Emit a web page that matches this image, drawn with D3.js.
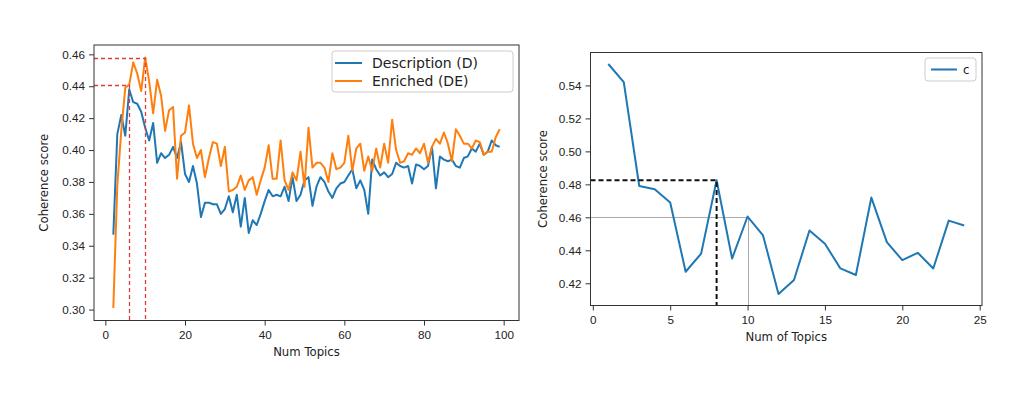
<!DOCTYPE html>
<html>
<head>
<meta charset="utf-8">
<script src="https://cdn.jsdelivr.net/npm/d3@7"></script>
<style>
  body { margin: 0; background: #fff; }
  svg { display: block; font-family: "DejaVu Sans", sans-serif; }
  .tick line { stroke: #333; }
  .tick text { fill: #222; font-size: 11.7px; }
  .axis-label { fill: #222; font-size: 11.7px; }
</style>
</head>
<body>
<svg id="chart" width="1024" height="394"></svg>
<script>

  //============================================================
  // Data
  //------------------------------------------------------------

  // left panel: topics 2..99
  var numTopics = d3.range(2, 100);

  var description = [
    0.347, 0.410, 0.422, 0.409, 0.438, 0.430, 0.429, 0.424, 0.414, 0.406,
    0.417, 0.392, 0.398, 0.395, 0.397, 0.402, 0.395, 0.405, 0.385, 0.380,
    0.390, 0.379, 0.358, 0.367, 0.367, 0.366, 0.366, 0.360, 0.363, 0.371,
    0.361, 0.372, 0.352, 0.370, 0.348, 0.356, 0.353, 0.360, 0.368, 0.375,
    0.371, 0.372, 0.371, 0.377, 0.368, 0.383, 0.368, 0.372, 0.381, 0.383,
    0.365, 0.377, 0.383, 0.380, 0.374, 0.370, 0.376, 0.379, 0.380, 0.384,
    0.388, 0.376, 0.381, 0.375, 0.360, 0.394, 0.388, 0.384, 0.386, 0.383,
    0.385, 0.392, 0.390, 0.389, 0.390, 0.379, 0.391, 0.390, 0.388, 0.390,
    0.402, 0.376, 0.396, 0.394, 0.393, 0.394, 0.390, 0.389, 0.395, 0.396,
    0.401, 0.399, 0.404, 0.397, 0.399, 0.406, 0.403, 0.402
  ];

  var enriched = [
    0.301, 0.378, 0.412, 0.439, 0.441, 0.455, 0.448, 0.437, 0.458, 0.443,
    0.423, 0.444, 0.434, 0.412, 0.425, 0.427, 0.382, 0.409, 0.411, 0.428,
    0.404, 0.395, 0.400, 0.383, 0.395, 0.405, 0.404, 0.390, 0.402, 0.374,
    0.375, 0.377, 0.384, 0.375, 0.381, 0.383, 0.372, 0.381, 0.389, 0.403,
    0.382, 0.382, 0.406, 0.381, 0.375, 0.386, 0.381, 0.399, 0.377, 0.414,
    0.389, 0.392, 0.392, 0.389, 0.380, 0.398, 0.388, 0.389, 0.392, 0.409,
    0.387, 0.401, 0.404, 0.387, 0.396, 0.387, 0.401, 0.389, 0.404, 0.392,
    0.419, 0.400, 0.392, 0.393, 0.398, 0.397, 0.401, 0.398, 0.404, 0.392,
    0.402, 0.407, 0.404, 0.411, 0.404, 0.393, 0.413, 0.409, 0.404, 0.404,
    0.401, 0.406, 0.405, 0.397, 0.399, 0.399, 0.408, 0.413
  ];

  var leftKeys = ['Description (D)', 'Enriched (DE)'];
  // red guide lines: [topic, score]
  var leftMarks = [[6, 0.441], [10, 0.458]];
  var leftXTicks = [0, 20, 40, 60, 80, 100];
  var leftYTicks = [0.30, 0.32, 0.34, 0.36, 0.38, 0.40, 0.42, 0.44, 0.46];

  // right panel: topics 1..24
  var topicsRight = d3.range(1, 25);
  var coherence = [
    0.553, 0.542, 0.479, 0.477, 0.469, 0.427, 0.438, 0.4825, 0.435, 0.4605,
    0.449, 0.4135, 0.422, 0.452, 0.444, 0.429, 0.425, 0.472, 0.445, 0.434,
    0.4385, 0.429, 0.458, 0.455
  ];
  var rightKeys = ['c'];
  var rightXTicks = [0, 5, 10, 15, 20, 25];
  var rightYTicks = [0.42, 0.44, 0.46, 0.48, 0.50, 0.52, 0.54];

  //============================================================


  var svg = d3.select('#chart');
  var blue = '#1f77b4', orange = '#ff7f0e';

  // matplotlib-style padded extent (5% each side)
  function padded(ext) {
    var m = (ext[1] - ext[0]) * 0.05;
    return [ext[0] - m, ext[1] + m];
  }

  // snap to pixel centre so thin dashed lines stay crisp
  function px(v) { return Math.round(v) + 0.5; }

  function panel(box, xDomain, yDomain, xTicks, yTicks, xLabel, yLabelX) {
    var x = d3.scaleLinear().domain(xDomain).range([box.left, box.right]);
    var y = d3.scaleLinear().domain(yDomain).range([box.bottom, box.top]);

    svg.append('g')
        .attr('transform', 'translate(0,' + box.bottom + ')')
        .call(d3.axisBottom(x).tickValues(xTicks).tickSize(5).tickPadding(5).tickFormat(d3.format('d')))
        .call(function (g) { g.select('.domain').remove(); });

    svg.append('g')
        .attr('transform', 'translate(' + box.left + ',0)')
        .call(d3.axisLeft(y).tickValues(yTicks).tickSize(5).tickPadding(4).tickFormat(d3.format('.2f')))
        .call(function (g) { g.select('.domain').remove(); });

    svg.append('text')
        .attr('class', 'axis-label')
        .attr('x', (box.left + box.right) / 2)
        .attr('y', box.bottom + 35)
        .attr('text-anchor', 'middle')
        .text(xLabel);

    svg.append('text')
        .attr('class', 'axis-label')
        .attr('transform', 'translate(' + yLabelX + ',' + ((box.top + box.bottom) / 2) + ') rotate(-90)')
        .attr('text-anchor', 'middle')
        .attr('dy', '0.35em')
        .text('Coherence score');

    return {x: x, y: y};
  }

  function frame(box) {
    svg.append('rect')
        .attr('x', box.left).attr('y', box.top)
        .attr('width', box.right - box.left).attr('height', box.bottom - box.top)
        .attr('fill', 'none').attr('stroke', '#333').attr('stroke-width', 1);
  }

  //------------------------------------------------------------
  // Left panel
  //------------------------------------------------------------

  var lbox = {left: 94, right: 519, top: 45, bottom: 320.5};
  var lx = padded(d3.extent(numTopics));
  var ly = padded(d3.extent(description.concat(enriched)));
  var L = panel(lbox, lx, ly, leftXTicks, leftYTicks, 'Num Topics', 44);

  var lline = d3.line()
      .x(function (d, i) { return L.x(numTopics[i]); })
      .y(function (d) { return L.y(d); });

  [[description, blue], [enriched, orange]].forEach(function (s) {
    svg.append('path')
        .datum(s[0])
        .attr('d', lline)
        .attr('fill', 'none')
        .attr('stroke', s[1])
        .attr('stroke-width', 2)
        .attr('stroke-linejoin', 'round');
  });

  leftMarks.forEach(function (m) {
    svg.append('path')
        .attr('d', 'M' + L.x(lx[0]) + ',' + px(L.y(m[1])) + 'H' + px(L.x(m[0])) + 'V' + L.y(ly[0]))
        .attr('fill', 'none')
        .attr('stroke', '#e23b3b')
        .attr('stroke-width', 1.3)
        .attr('stroke-dasharray', '4,3');
  });

  frame(lbox);

  var lleg = svg.append('g').attr('transform', 'translate(332,51)');
  lleg.append('rect')
      .attr('width', 181).attr('height', 41).attr('rx', 3)
      .attr('fill', '#fff').attr('fill-opacity', 0.8)
      .attr('stroke', '#ccc');
  leftKeys.forEach(function (k, i) {
    var row = lleg.append('g').attr('transform', 'translate(0,' + (12 + i * 18) + ')');
    row.append('line')
        .attr('x1', 3).attr('x2', 30)
        .attr('stroke', i ? orange : blue).attr('stroke-width', 2);
    row.append('text')
        .attr('x', 40).attr('dy', '0.35em')
        .attr('font-size', 14).attr('fill', '#222')
        .text(k);
  });

  //------------------------------------------------------------
  // Right panel
  //------------------------------------------------------------

  var rbox = {left: 590.5, right: 982, top: 52.5, bottom: 305.5};
  var rx = padded(d3.extent(topicsRight));
  var ry = padded(d3.extent(coherence));
  var R = panel(rbox, rx, ry, rightXTicks, rightYTicks, 'Num of Topics', 543);

  // dashed guide at the best topic count, dotted one at 10
  var best = coherence[topicsRight.indexOf(8)];
  var ten = coherence[topicsRight.indexOf(10)];

  svg.append('path')
      .attr('d', 'M' + R.x(rx[0]) + ',' + px(R.y(ten)) + 'H' + px(R.x(10)) + 'V' + R.y(ry[0]))
      .attr('fill', 'none')
      .attr('stroke', '#555')
      .attr('stroke-width', 1)
      .attr('stroke-dasharray', '1,1');

  svg.append('path')
      .datum(coherence)
      .attr('d', d3.line()
          .x(function (d, i) { return R.x(topicsRight[i]); })
          .y(function (d) { return R.y(d); }))
      .attr('fill', 'none')
      .attr('stroke', blue)
      .attr('stroke-width', 2)
      .attr('stroke-linejoin', 'round');

  svg.append('path')
      .attr('d', 'M' + R.x(rx[0]) + ',' + R.y(best) + 'H' + R.x(8) + 'V' + R.y(ry[0]))
      .attr('fill', 'none')
      .attr('stroke', '#111')
      .attr('stroke-width', 2)
      .attr('stroke-dasharray', '5,3');

  frame(rbox);

  var rleg = svg.append('g').attr('transform', 'translate(925,58)');
  rleg.append('rect')
      .attr('width', 51).attr('height', 23).attr('rx', 3)
      .attr('fill', '#fff').attr('fill-opacity', 0.8)
      .attr('stroke', '#ccc');
  rleg.append('line')
      .attr('x1', 6).attr('x2', 32).attr('y1', 11.5).attr('y2', 11.5)
      .attr('stroke', blue).attr('stroke-width', 2);
  rleg.append('text')
      .attr('x', 38).attr('y', 11.5).attr('dy', '0.35em')
      .attr('font-size', 11.7).attr('fill', '#222')
      .text(rightKeys[0]);

</script>
</body>
</html>
